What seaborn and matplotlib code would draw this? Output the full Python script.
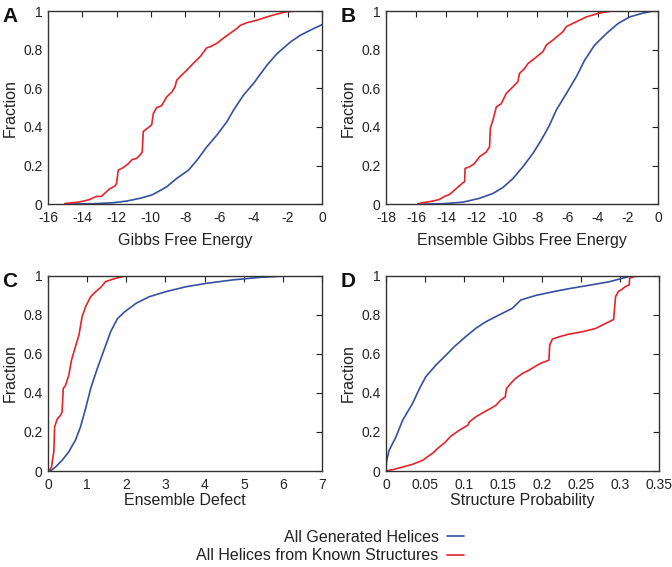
import numpy as np
import pandas as pd
import seaborn as sns
import matplotlib.pyplot as plt
from matplotlib.lines import Line2D

sns.set_theme(style="white")
plt.rcParams['font.family'] = ['Liberation Sans', 'DejaVu Sans']
plt.rcParams['axes.unicode_minus'] = False

BLUE = '#34519e'
RED = '#e3242b'

# A: Gibbs free energy (CDF curves)
a_red_x = [-15.02, -14.24, -13.95, -13.56, -13.17, -12.88, -12.59, -12.39, -12.1, -12.0, -11.9, -11.6, -11.3,
           -11.1, -10.83, -10.63, -10.5, -10.44, -10.24, -9.95, -9.85, -9.66, -9.37, -9.07, -8.78, -8.59,
           -8.49, -8.2, -7.9, -7.51, -7.12, -6.73, -6.54, -6.15, -5.76, -5.37, -4.98, -4.78, -4.39, -3.8,
           -3.22, -2.63, -2.05, -1.56]
a_red_y = [0.003, 0.01, 0.015, 0.024, 0.04, 0.04, 0.064, 0.08, 0.093, 0.107, 0.176, 0.19, 0.21,
           0.23, 0.237, 0.254, 0.27, 0.376, 0.39, 0.41, 0.47, 0.5, 0.51, 0.556, 0.58, 0.607,
           0.642, 0.668, 0.694, 0.73, 0.764, 0.81, 0.815, 0.833, 0.86, 0.885, 0.91, 0.926, 0.94, 0.953,
           0.97, 0.985, 0.997, 1.0]
a_blue_x = [-14.93, -13.4, -12.2, -11.4, -10.63, -9.95, -9.46, -9.07, -8.49, -7.8, -7.3, -6.73, -6.15,
            -5.56, -5.17, -4.59, -4.0, -3.22, -2.63, -1.85, -1.27, -0.49, 0.0]
a_blue_y = [0.0, 0.002, 0.007, 0.016, 0.03, 0.047, 0.07, 0.09, 0.133, 0.176, 0.228, 0.297, 0.357,
            0.427, 0.487, 0.565, 0.626, 0.72, 0.78, 0.84, 0.875, 0.91, 0.93]

# B: Ensemble Gibbs free energy
b_red_x = [-15.9, -15.57, -14.9, -14.47, -14.13, -13.8, -13.36, -12.92, -12.8, -12.77, -12.48, -12.15,
           -11.82, -11.37, -11.15, -11.1, -10.93, -10.7, -10.38, -10.05, -9.6, -9.28, -9.17, -8.83, -8.6,
           -8.17, -7.62, -7.4, -6.96, -6.3, -6.07, -5.41, -4.75, -3.87, -3.1]
b_red_y = [0.002, 0.007, 0.016, 0.024, 0.04, 0.05, 0.08, 0.11, 0.116, 0.185, 0.193, 0.21,
           0.245, 0.27, 0.297, 0.392, 0.435, 0.504, 0.52, 0.573, 0.608, 0.634, 0.677, 0.703, 0.729,
           0.755, 0.79, 0.824, 0.85, 0.893, 0.92, 0.945, 0.97, 0.99, 1.0]
b_blue_x = [-15.57, -14.24, -12.92, -11.82, -10.93, -10.27, -9.6, -8.95, -8.28, -7.73, -7.18, -6.74,
            -6.07, -5.41, -4.86, -4.2, -3.42, -2.65, -1.88, -0.99, -0.33]
b_blue_y = [0.0, 0.002, 0.01, 0.03, 0.055, 0.086, 0.133, 0.193, 0.263, 0.332, 0.41, 0.487,
            0.573, 0.66, 0.746, 0.824, 0.884, 0.936, 0.97, 0.99, 1.0]

# C: Ensemble defect
c_red_x = [0.017, 0.09, 0.12, 0.15, 0.17, 0.23, 0.32, 0.36, 0.39, 0.45, 0.53, 0.6, 0.7, 0.79, 0.87,
           0.96, 1.09, 1.22, 1.35, 1.47, 1.65, 1.82, 1.99]
c_red_y = [0.0, 0.02, 0.063, 0.1, 0.226, 0.264, 0.286, 0.303, 0.423, 0.44, 0.49, 0.568, 0.637, 0.697,
           0.79, 0.842, 0.894, 0.92, 0.942, 0.971, 0.983, 0.993, 1.0]
c_blue_x = [0.06, 0.19, 0.36, 0.53, 0.7, 0.83, 0.96, 1.09, 1.26, 1.43, 1.6, 1.77, 1.95, 2.25, 2.59,
            3.02, 3.53, 4.04, 4.73, 5.42, 6.1]
c_blue_y = [0.0, 0.02, 0.055, 0.098, 0.158, 0.226, 0.32, 0.423, 0.526, 0.62, 0.714, 0.78, 0.815, 0.86,
            0.894, 0.92, 0.945, 0.962, 0.98, 0.993, 1.0]

# D: Structure probability
d_red_x = [0.0, 0.0085, 0.021, 0.034, 0.047, 0.053, 0.062, 0.066, 0.075, 0.083, 0.094, 0.105, 0.107,
           0.115, 0.126, 0.134, 0.141, 0.147, 0.153, 0.1545, 0.16, 0.166, 0.175, 0.1835, 0.192, 0.2,
           0.209, 0.21, 0.2134, 0.222, 0.235, 0.252, 0.269, 0.282, 0.292, 0.2945, 0.298, 0.303, 0.307,
           0.312, 0.3125, 0.318, 0.329]
d_red_y = [0.0, 0.007, 0.02, 0.034, 0.055, 0.072, 0.098, 0.115, 0.144, 0.178, 0.209, 0.235, 0.252,
           0.277, 0.303, 0.32, 0.337, 0.363, 0.38, 0.423, 0.449, 0.474, 0.5, 0.517, 0.538, 0.555,
           0.568, 0.646, 0.676, 0.688, 0.702, 0.714, 0.731, 0.757, 0.777, 0.894, 0.92, 0.932, 0.945,
           0.954, 0.988, 0.997, 1.0]
d_blue_x = [0.0, 0.001, 0.004, 0.0128, 0.0213, 0.034, 0.043, 0.051, 0.064, 0.077, 0.0875, 0.102, 0.115,
            0.128, 0.145, 0.162, 0.173, 0.192, 0.213, 0.235, 0.26, 0.286, 0.303, 0.312, 0.32]
d_blue_y = [0.02, 0.055, 0.106, 0.175, 0.26, 0.346, 0.423, 0.483, 0.543, 0.594, 0.637, 0.688, 0.731,
            0.765, 0.8, 0.834, 0.877, 0.9, 0.918, 0.935, 0.952, 0.97, 0.988, 0.997, 1.0]

panels = [
    ('A', 'Gibbs Free Energy', (-16, 0), np.arange(-16, 1, 2), [0.0714, 0.640, 0.408, 0.3404],
     a_blue_x, a_blue_y, a_red_x, a_red_y, 6),
    ('B', 'Ensemble Gibbs Free Energy', (-18, 0), np.arange(-18, 1, 2), [0.5744, 0.640, 0.405, 0.3404],
     b_blue_x, b_blue_y, b_red_x, b_red_y, 6),
    ('C', 'Ensemble Defect', (0, 7), np.arange(0, 8, 1), [0.0714, 0.1693, 0.408, 0.344],
     c_blue_x, c_blue_y, c_red_x, c_red_y, 0.5),
    ('D', 'Structure Probability', (0, 0.35), np.arange(0, 0.36, 0.05), [0.5744, 0.1693, 0.406, 0.344],
     d_blue_x, d_blue_y, d_red_x, d_red_y, 0.5),
]

fig = plt.figure(figsize=(6.72, 5.67), dpi=100)

for letter, xlabel, xlim, xticks, pos, bx, by, rx, ry, lpad in panels:
    ax = fig.add_axes(pos)
    sns.lineplot(x=bx, y=by, sort=False, estimator=None, color=BLUE, lw=1.2, ax=ax)
    sns.lineplot(x=rx, y=ry, sort=False, estimator=None, color=RED, lw=1.2, ax=ax)
    ax.set_xlim(*xlim)
    ax.set_ylim(0, 1)
    ax.set_xticks(xticks)
    ax.set_xticklabels([f'{t:g}' for t in np.round(xticks, 2)])
    ax.set_yticks([0, 0.2, 0.4, 0.6, 0.8, 1])
    ax.set_yticklabels(['0', '0.2', '0.4', '0.6', '0.8', '1'])
    ax.tick_params(direction='in', top=True, right=True, length=4, width=0.8,
                   labelsize=10, colors='#222222')
    ax.tick_params(axis='x', pad=5)
    ax.tick_params(axis='y', pad=4)
    for s in ax.spines.values():
        s.set_color('#333333')
        s.set_linewidth(1.0)
    ax.set_xlabel(xlabel, fontsize=11.5, color='#222222', labelpad=lpad)
    ax.set_ylabel('Fraction', fontsize=11.5, color='#222222', labelpad=4)
    fig.text(pos[0] - 0.068, pos[1] + pos[3] + 0.007, letter, fontsize=15, fontweight='bold',
             va='top', ha='left', color='#111111')

handles = [Line2D([], [], color=BLUE, lw=1.2), Line2D([], [], color=RED, lw=1.2)]
labels = ['All Generated Helices', 'All Helices from Known Structures']
fig.legend(handles, labels, loc='center right', bbox_to_anchor=(0.712, 0.036), frameon=False,
           markerfirst=False, fontsize=11.5, handlelength=1.1, handletextpad=0.5,
           labelspacing=0.2, labelcolor='#222222')

fig.savefig('out.png', dpi=100)
